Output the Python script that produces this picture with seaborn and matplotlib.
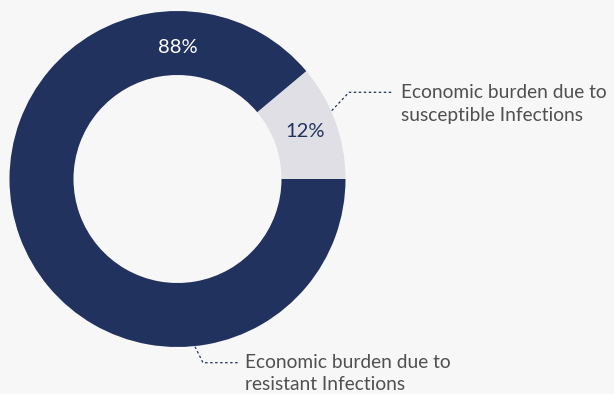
import matplotlib
matplotlib.use("Agg")
import matplotlib.pyplot as plt
import seaborn as sns
import numpy as np

categories = ["Economic burden due to\nsusceptible Infections",
              "Economic burden due to\nresistant Infections"]
values = [11.1, 88.9]          # slice sizes as drawn
pct_labels = ["12%", "88%"]    # labels as printed
colors = ["#e0dfe5", "#22325f"]

sns.set_theme(style="white", rc={"figure.facecolor": "#f7f7f7",
                                 "axes.facecolor": "#f7f7f7"})
plt.rcParams["font.family"] = ["Lato", "DejaVu Sans"]

W, H = 614, 394
fig = plt.figure(figsize=(W / 100, H / 100), dpi=100)
ax = fig.add_axes([0, 0, 1, 1])

cx, cy = 177.5, H - 179
R, ring = 168, 64
pal = sns.color_palette(colors)
wedges, _ = ax.pie(values, colors=pal, startangle=0, counterclock=True,
                   center=(cx, cy), radius=R,
                   wedgeprops=dict(width=ring, linewidth=0))
ax.set_xlim(0, W)
ax.set_ylim(0, H)
ax.set_axis_off()

# percentage labels inside the ring
txt_colors = ["#22325f", "#ffffff"]
label_pos = [(20.5, 136), (90.0, 132)]
for lab, tc, (a, r) in zip(pct_labels, txt_colors, label_pos):
    ang = np.deg2rad(a)
    ax.text(cx + r * np.cos(ang), cy + r * np.sin(ang), lab,
            ha="center", va="center", fontsize=14.5, color=tc)

# annotations
tcol = "#505050"
fs = 13.8
line_kw = dict(color="#22325f", lw=0.9, linestyle=(0, (2, 2)))
ax.plot([331.7, 349, 392], [H - 110.7, H - 92.3, H - 92.3], **line_kw)
l1, l2 = categories[0].split("\n")
ax.text(401, H - 92.3, l1, ha="left", va="center", fontsize=fs, color=tcol)
ax.text(401, H - 115, l2, ha="left", va="center", fontsize=fs, color=tcol)

ax.plot([195, 203, 238], [H - 346.7, H - 362.7, H - 362.7], **line_kw)
l1, l2 = categories[1].split("\n")
ax.text(245, H - 362.5, l1, ha="left", va="center", fontsize=fs, color=tcol)
ax.text(245, H - 385, l2, ha="left", va="center", fontsize=fs, color=tcol)

fig.savefig("out.png", dpi=100, facecolor="#f7f7f7")
